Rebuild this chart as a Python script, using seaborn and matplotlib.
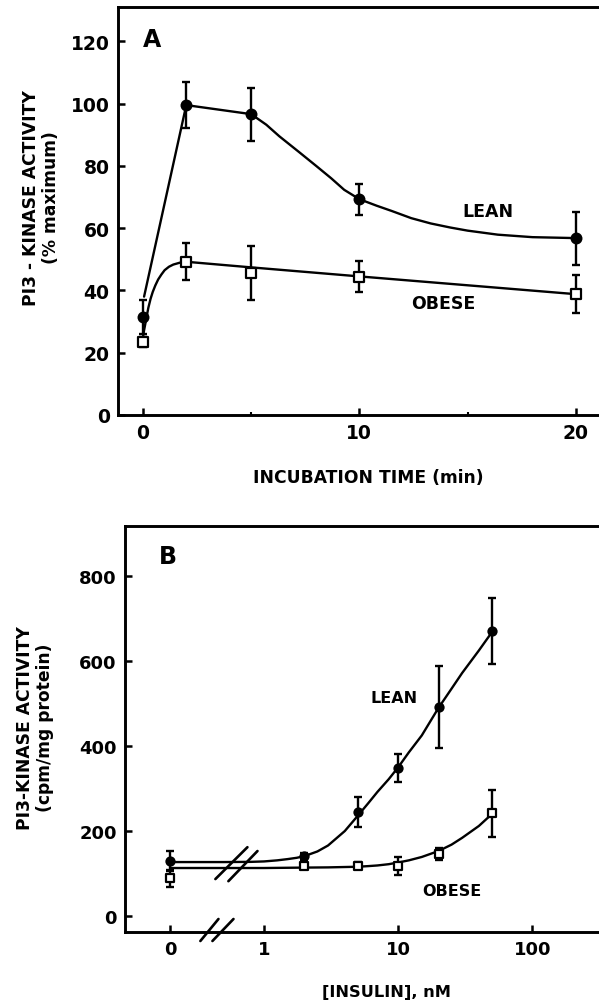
import numpy as np
import matplotlib
matplotlib.use("Agg")
import matplotlib.pyplot as plt
import seaborn as sns

# ---- panel A: time course, % of maximum ----
time_min = [0, 2, 5, 10, 20]
lean_time = [31.5, 99.5, 96.5, 69.3, 56.8]
lean_time_sem = [5.5, 7.5, 8.5, 5.0, 8.5]
obese_time = [23.4, 49.2, 45.6, 44.4, 38.8]
obese_time_sem = [1.5, 6.0, 8.7, 5.0, 6.0]

# hand drawn curves
lean_time_curve_t = [0.05, 2, 5, 5.7, 6.3, 7.2, 8, 8.7, 9.3, 10, 10.8, 11.5, 12.4,
                     13.3, 14.2, 15, 16.4, 18, 20]
lean_time_curve_y = [38, 99.5, 96.6, 93.2, 89.5, 84.5, 80, 76, 72.3, 69.3, 67.2, 65.5,
                     63.2, 61.5, 60.2, 59.2, 57.9, 57.1, 56.8]
obese_time_curve_t = [0, 0.05, 0.1, 0.18, 0.25, 0.35, 0.45, 0.57, 0.7, 0.85, 1.0,
                      1.2, 1.4, 1.7, 2, 5, 10, 20]
obese_time_curve_y = [25, 27.2, 29, 32, 34.5, 37.3, 39.5, 41.6, 43.5, 45.1, 46.5,
                      47.6, 48.3, 48.9, 49.2, 47.4, 44.5, 38.8]

# ---- panel B: insulin dose response, cpm/mg protein ----
insulin_nm = [0, 2, 5, 10, 20, 50]
lean_dose = [129, 141, 245, 348, 492, 671]
lean_dose_sem = [24, 8, 35, 33, 97, 78]
obese_dose = [89, 118, 118, 118, 146, 242]
obese_dose_sem = [20, 8, 8, 22, 14, 55]

lean_dose_curve_x = [0, 0.5, 0.8, 1.0, 1.25, 1.5, 1.75, 2, 2.5, 3, 4, 5, 6, 7, 8.5,
                     10, 12, 15, 20, 25, 30, 40, 50]
lean_dose_curve_y = [127, 127, 127.5, 128.5, 131, 134, 137, 141, 152, 166, 200, 236,
                     266, 292, 322, 350, 385, 425, 490, 535, 572, 625, 668]
obese_dose_curve_x = [0, 0.5, 1.0, 2, 3, 5, 6, 7, 8.5, 10, 12, 15, 20, 25, 30, 40, 50]
obese_dose_curve_y = [113, 113, 113, 114, 114.5, 116, 117.5, 119, 122, 126, 131, 139,
                      153, 168, 184, 212, 240]

dose_ticks = [0, 1, 10, 100]
dose_tick_labels = ["0", "1", "10", "100"]

ZERO_POS = -0.7  # where dose 0 sits on the broken log axis


def dose_pos(d):
    d = np.asarray(d, dtype=float)
    safe = np.where(d > 0, d, 1.0)
    return np.where(d > 0, np.log10(safe), ZERO_POS)


sns.set_style("ticks")
plt.rcParams['font.family'] = ['DejaVu Sans']
plt.rcParams['font.weight'] = 'bold'
plt.rcParams['text.color'] = 'black'
plt.rcParams['axes.labelcolor'] = 'black'
plt.rcParams['xtick.color'] = 'black'
plt.rcParams['ytick.color'] = 'black'

W, H = 599, 1003
fig = plt.figure(figsize=(W / 100, H / 100), dpi=100)

ax_a = fig.add_axes([118 / W, 1 - 416 / H, (606 - 118) / W, 408 / H])
ax_b = fig.add_axes([125 / W, 1 - 933 / H, (606 - 125) / W, 406 / H])

LW = 1.7


def style_axes(ax, fs):
    for side in ['left', 'bottom', 'top', 'right']:
        ax.spines[side].set_linewidth(2.1)
        ax.spines[side].set_color('black')
    ax.tick_params(axis='both', which='major', direction='in', length=5,
                   width=1.8, labelsize=fs, pad=6, colors='black')
    ax.tick_params(axis='both', which='minor', direction='in', length=2.5, width=1.5)
    ax.tick_params(axis='y', right=False)
    ax.tick_params(axis='x', top=False)
    for lab in ax.get_xticklabels() + ax.get_yticklabels():
        lab.set_fontweight('bold')
        lab.set_color('black')


def draw_group(ax, x, y, err, curve_x, curve_y, filled, ms):
    sns.lineplot(x=curve_x, y=curve_y, ax=ax, color='black', lw=LW,
                 sort=False, estimator=None, zorder=2)
    ax.errorbar(x, y, yerr=err, fmt='none', ecolor='black', elinewidth=1.7,
                capsize=3, capthick=1.7, zorder=3)
    if filled:
        sns.scatterplot(x=x, y=y, ax=ax, marker='o', s=ms ** 2, color='black',
                        edgecolor='black', linewidth=0, zorder=4)
    else:
        sns.scatterplot(x=x, y=y, ax=ax, marker='s', s=ms ** 2, color='white',
                        edgecolor='black', linewidth=1.6, zorder=4)


# ---------- panel A ----------
draw_group(ax_a, time_min, lean_time, lean_time_sem,
           lean_time_curve_t, lean_time_curve_y, True, 8.6)
draw_group(ax_a, time_min, obese_time, obese_time_sem,
           obese_time_curve_t, obese_time_curve_y, False, 6.5)

ax_a.set_xlim(-1.155, 21.4)
ax_a.set_ylim(0, 131)
ax_a.set_xticks([0, 10, 20])
ax_a.set_xticks([5, 15], minor=True)
ax_a.set_yticks(np.arange(0, 121, 20))
style_axes(ax_a, 13.5)
ax_a.set_xlabel('')
ax_a.set_ylabel('')

ax_a.text(0.42, 120.6, 'A', fontsize=17, fontweight='bold', ha='center', va='center')
ax_a.text(15.93, 65.4, 'LEAN', fontsize=12.5, fontweight='bold', ha='center', va='center')
ax_a.text(13.86, 35.9, 'OBESE', fontsize=12.5, fontweight='bold', ha='center', va='center')

# ---------- panel B ----------
draw_group(ax_b, dose_pos(insulin_nm), lean_dose, lean_dose_sem,
           dose_pos(lean_dose_curve_x), lean_dose_curve_y, True, 7.4)
draw_group(ax_b, dose_pos(insulin_nm), obese_dose, obese_dose_sem,
           dose_pos(obese_dose_curve_x), obese_dose_curve_y, False, 5.8)

ax_b.set_xlim(-1.037, 2.55)
ax_b.set_ylim(-37.6, 918)
ax_b.set_xticks(dose_pos(dose_ticks))
ax_b.set_xticklabels(dose_tick_labels)
ax_b.set_yticks([0, 200, 400, 600, 800])
style_axes(ax_b, 13)
ax_b.set_xlabel('')
ax_b.set_ylabel('')

# break marks on the curves and on the x axis
for (x0, y0), (x1, y1) in [((-0.363, 87), (-0.124, 162)),
                           ((-0.266, 82), (-0.049, 153))]:
    ax_b.plot([x0, x1], [y0, y1], color='black', lw=1.9, zorder=5)
for (x0, y0), (x1, y1) in [((-0.475, -58.8), (-0.34, -7)),
                           ((-0.385, -58.8), (-0.228, -7))]:
    ax_b.plot([x0, x1], [y0, y1], color='black', lw=1.9, clip_on=False, zorder=5)

ax_b.text(-0.72, 847, 'B', fontsize=17, fontweight='bold', ha='center', va='center')
ax_b.text(0.966, 515, 'LEAN', fontsize=11.5, fontweight='bold', ha='center', va='center')
ax_b.text(1.40, 59, 'OBESE', fontsize=11.5, fontweight='bold', ha='center', va='center')

# axis titles
fig.text(368 / W, 1 - 478 / H, 'INCUBATION TIME (min)', fontsize=12.3,
         fontweight='bold', ha='center', va='center')
fig.text(386 / W, 1 - 993 / H, '[INSULIN], nM', fontsize=11.7,
         fontweight='bold', ha='center', va='center')
fig.text(41 / W, 1 - 198 / H, 'PI3 - KINASE ACTIVITY\n(% maximum)', fontsize=12.3,
         fontweight='bold', ha='center', va='center', rotation=90,
         multialignment='center', linespacing=1.1)
fig.text(35 / W, 1 - 728 / H, 'PI3-KINASE ACTIVITY\n(cpm/mg protein)', fontsize=12.3,
         fontweight='bold', ha='center', va='center', rotation=90,
         multialignment='center', linespacing=1.1)

fig.savefig('out.png', dpi=100)
